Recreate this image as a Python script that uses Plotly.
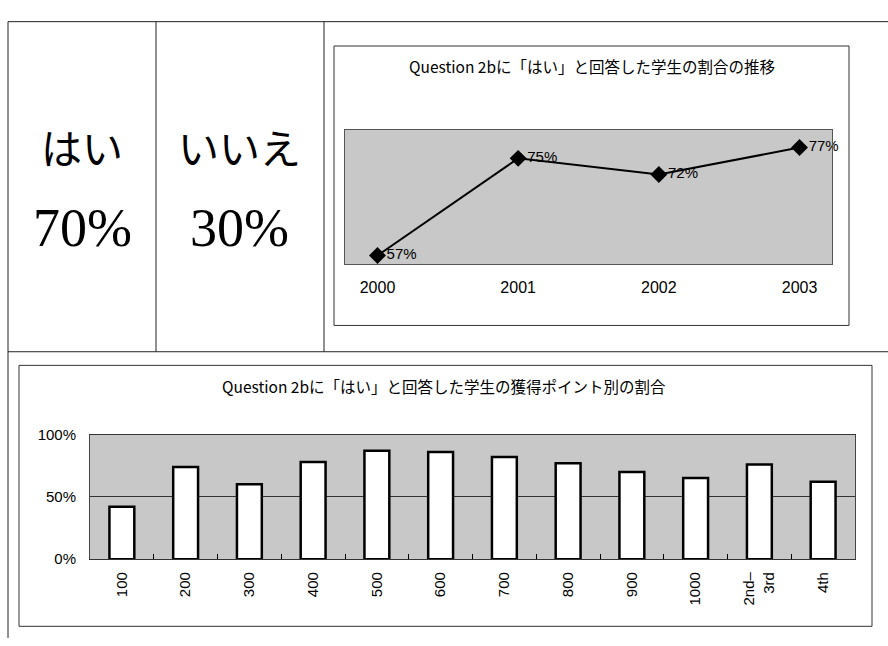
import plotly.graph_objects as go

W, H = 888, 646

# Share of students answering "はい" to Question 2b, by year
years = ["2000", "2001", "2002", "2003"]
yes_share_by_year = [57, 75, 72, 77]

# Share of students answering "はい", by points earned
point_bands = ["100", "200", "300", "400", "500", "600", "700", "800",
               "900", "1000", "2nd–<br>3rd", "4th"]
yes_share_by_band = [42, 74, 60, 78, 87, 86, 82, 77, 70, 65, 76, 62]
pct_ticks = [0, 50, 100]
pct_tick_labels = ["0%", "50%", "100%"]

# Overall answer split
overall_labels = ["はい", "いいえ"]
overall_shares = [70, 30]


def fx(px):
    return px / W


def fy(py):
    return 1 - py / H


SANS = "Liberation Sans"
JP = "Noto Sans CJK JP"
SERIF = "Liberation Serif"

fig = go.Figure()

fig.add_trace(go.Scatter(
    x=years, y=yes_share_by_year,
    mode="lines+markers+text",
    text=[f"{v}%" for v in yes_share_by_year],
    textposition="middle right",
    textfont=dict(family=SANS, size=15, color="black"),
    line=dict(color="black", width=2),
    marker=dict(symbol="diamond", size=13, color="black"),
    cliponaxis=False,
    xaxis="x", yaxis="y", showlegend=False,
))

fig.add_trace(go.Bar(
    x=point_bands, y=yes_share_by_band, width=0.39,
    marker=dict(color="white", line=dict(color="black", width=2.5)),
    xaxis="x2", yaxis="y2", showlegend=False,
))

fig.update_layout(
    width=W, height=H,
    margin=dict(l=0, r=0, t=0, b=0),
    paper_bgcolor="white",
    plot_bgcolor="#c8c8c8",
    xaxis=dict(
        domain=[fx(345), fx(832)], anchor="y", type="category",
        showline=True, mirror=True, linecolor="#555", linewidth=1,
        ticks="", showgrid=False, zeroline=False,
        tickfont=dict(family=SANS, size=16, color="black"),
        ticklabelstandoff=9,
    ),
    yaxis=dict(
        domain=[fy(262), fy(124)], anchor="x", range=[55.4, 80.3],
        showline=True, mirror=True, linecolor="#555", linewidth=1,
        showticklabels=False, ticks="", showgrid=False, zeroline=False,
    ),
    xaxis2=dict(
        domain=[fx(90), fx(855)], anchor="y2", type="category",
        showline=True, mirror=True, linecolor="#333", linewidth=1,
        tickangle=-90, ticks="inside", tickson="boundaries", ticklen=5,
        tickcolor="black", showgrid=False, zeroline=False,
        tickfont=dict(family=SANS, size=15, color="black"),
        ticklabelstandoff=6,
    ),
    yaxis2=dict(
        domain=[fy(565), fy(437)], anchor="x2", range=[0, 100],
        tickmode="array", tickvals=pct_ticks, ticktext=pct_tick_labels,
        showline=True, mirror=True, linecolor="#444", linewidth=1,
        showgrid=True, gridcolor="#333", gridwidth=1, zeroline=False,
        ticks="", ticklabelstandoff=10,
        tickfont=dict(family=SANS, size=15, color="black"),
    ),
)

# Table grid and chart frames
shapes = []


def hline(y, x0, x1, w=1):
    shapes.append(dict(type="line", xref="paper", yref="paper",
                       x0=fx(x0), x1=fx(x1), y0=fy(y), y1=fy(y),
                       line=dict(color="#222", width=w)))


def vline(x, y0, y1, w=1):
    shapes.append(dict(type="line", xref="paper", yref="paper",
                       x0=fx(x), x1=fx(x), y0=fy(y0), y1=fy(y1),
                       line=dict(color="#222", width=w)))


def box(x0, y0, x1, y1):
    shapes.append(dict(type="rect", xref="paper", yref="paper",
                       x0=fx(x0), x1=fx(x1), y0=fy(y1), y1=fy(y0),
                       line=dict(color="#333", width=1)))


hline(13, 8, 888)
hline(352, 8, 888)
vline(8, 13, 646)
vline(156, 13, 352)
vline(324, 13, 352)
box(334, 38, 849, 325)
box(19, 366, 872, 634)

annotations = []
cell_centers = [82, 239]
for cx, lab, share in zip(cell_centers, overall_labels, overall_shares):
    annotations.append(dict(
        text=lab, x=fx(cx), y=fy(141), xref="paper", yref="paper",
        xanchor="center", yanchor="middle", showarrow=False,
        font=dict(family=JP, size=41, color="black"),
    ))
    annotations.append(dict(
        text=f"{share}%", x=fx(cx), y=fy(225), xref="paper", yref="paper",
        xanchor="center", yanchor="middle", showarrow=False,
        font=dict(family=SERIF, size=54, color="black"),
    ))

annotations.append(dict(
    text="Question 2bに「はい」と回答した学生の割合の推移",
    x=fx(592), y=fy(59), xref="paper", yref="paper",
    xanchor="center", yanchor="middle", showarrow=False,
    font=dict(family=JP, size=15.5, color="black"),
))
annotations.append(dict(
    text="Question 2bに「はい」と回答した学生の獲得ポイント別の割合",
    x=fx(444), y=fy(387), xref="paper", yref="paper",
    xanchor="center", yanchor="middle", showarrow=False,
    font=dict(family=JP, size=15.5, color="black"),
))

fig.update_layout(shapes=shapes, annotations=annotations)

fig.write_html("out.html")
